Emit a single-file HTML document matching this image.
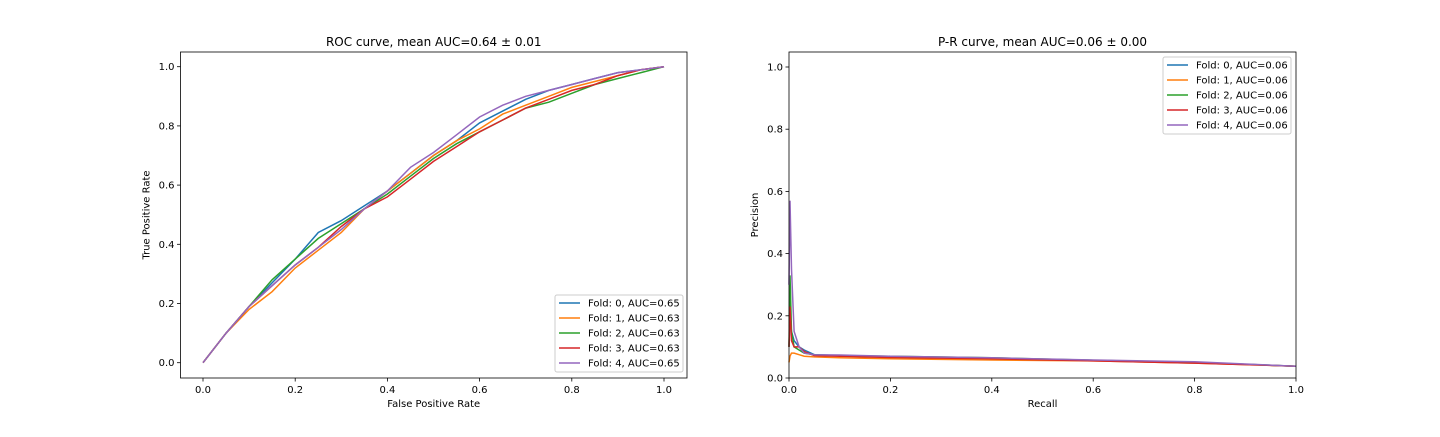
<!DOCTYPE html>
<html><head><meta charset="utf-8"><style>
body{margin:0;background:#fff;}
svg text{font-family:"DejaVu Sans","Liberation Sans",sans-serif;fill:#000;}
</style></head><body>
<svg id="fig" width="1440" height="432" xmlns="http://www.w3.org/2000/svg"></svg>
<script>
const rocX=[0,0.05,0.1,0.15,0.2,0.25,0.3,0.35,0.4,0.45,0.5,0.55,0.6,0.65,0.7,0.75,0.8,0.85,0.9,0.95,1];
const rocF0=[0,.10,.19,.27,.35,.44,.48,.53,.58,.64,.70,.75,.81,.85,.89,.92,.94,.96,.98,.99,1];
const rocF1=[0,.10,.18,.24,.32,.38,.44,.52,.58,.64,.70,.75,.79,.84,.87,.90,.93,.95,.97,.99,1];
const rocF2=[0,.10,.19,.28,.35,.42,.47,.52,.57,.63,.69,.74,.78,.82,.86,.88,.91,.94,.96,.98,1];
const rocF3=[0,.10,.19,.26,.33,.39,.46,.52,.56,.62,.68,.73,.78,.82,.86,.89,.92,.94,.97,.99,1];
const rocF4=[0,.10,.19,.26,.33,.39,.45,.52,.58,.66,.71,.77,.83,.87,.90,.92,.94,.96,.98,.99,1];
const prX=[0,0.002,0.005,0.01,0.02,0.03,0.05,0.1,0.2,0.4,0.6,0.8,1.0];
const prF0=[0.1,0.2,0.15,0.12,0.1,0.09,0.075,0.072,0.068,0.063,0.057,0.05,0.038];
const prF1=[0.05,0.07,0.08,0.08,0.075,0.07,0.068,0.065,0.062,0.058,0.055,0.048,0.038];
const prF2=[0.1,0.33,0.15,0.1,0.09,0.08,0.075,0.072,0.07,0.065,0.057,0.05,0.038];
const prF3=[0.1,0.23,0.12,0.1,0.1,0.085,0.072,0.07,0.066,0.062,0.055,0.048,0.038];
const prF4=[0.3,0.57,0.35,0.15,0.1,0.08,0.075,0.074,0.07,0.065,0.058,0.052,0.038];
const rocLabels=["Fold: 0, AUC=0.65","Fold: 1, AUC=0.63","Fold: 2, AUC=0.63","Fold: 3, AUC=0.63","Fold: 4, AUC=0.65"];
const prLabels=["Fold: 0, AUC=0.06","Fold: 1, AUC=0.06","Fold: 2, AUC=0.06","Fold: 3, AUC=0.06","Fold: 4, AUC=0.06"];
const ticks=[0,0.2,0.4,0.6,0.8,1.0];
const colors=["#1f77b4","#ff7f0e","#2ca02c","#d62728","#9467bd"];
const NS="http://www.w3.org/2000/svg";
const svg=document.getElementById('fig');
function mk(t,a,p){const e=document.createElementNS(NS,t);for(const k in a)e.setAttribute(k,a[k]);(p||svg).appendChild(e);return e;}
function panel(o){
 const g=mk('g',{});
 
 
 const sx=v=>o.x0+(o.x1-o.x0)*v, sy=v=>o.y0+(o.y1-o.y0)*v;
 ticks.forEach(t=>{
  const X=sx(t);
  const tk=mk('line',{x1:X,x2:X,y1:o.B,y2:o.B+3.5,stroke:'#000','stroke-width':0.8},g);
  
  
  const tx=mk('text',{x:X,y:o.B+15,'font-size':10,'text-anchor':'middle'},g);tx.textContent=t.toFixed(1);
  
  
  const Y=sy(t);
  const yk=mk('line',{x1:o.L-3.5,x2:o.L,y1:Y,y2:Y,stroke:'#000','stroke-width':0.8},g);
  
  
  const ty=mk('text',{x:o.L-6,y:Y+3.5,'font-size':10,'text-anchor':'end'},g);ty.textContent=t.toFixed(1);
  
  
 });
 o.series.forEach((s,i)=>{
  const d=o.xs.map((x,j)=>(j?'L':'M')+sx(x).toFixed(1)+','+sy(s[j]).toFixed(1)).join('');
  const p=mk('path',{d:d,fill:'none',stroke:colors[i],'stroke-width':1.5},g);
  
  
 });
 const fr=mk('rect',{x:o.L,y:o.T,width:o.R-o.L,height:o.B-o.T,fill:'none',stroke:'#000','stroke-width':0.8},g);
 
 
 const ti=mk('text',{x:(o.L+o.R)/2,y:o.T-6,'font-size':12,'text-anchor':'middle'},g);ti.textContent=o.title;
 
 
 const xl=mk('text',{x:(o.L+o.R)/2,y:o.B+29,'font-size':10,'text-anchor':'middle'},g);xl.textContent=o.xlabel;
 
 
 const yx=o.L-31, yy=(o.T+o.B)/2;
 const yl=mk('text',{x:yx,y:yy,'font-size':10,'text-anchor':'middle',transform:`rotate(-90 ${yx} ${yy})`},g);yl.textContent=o.ylabel;
 
 
 const lg=mk('g',{},g);
 
 
 mk('rect',{x:o.lx,y:o.ly,width:128,height:77,rx:2,fill:'#fff','fill-opacity':0.8,stroke:'#ccc','stroke-width':1},lg);
 o.labels.forEach((l,i)=>{
  const yy2=o.ly+8+i*15;
  const ln=mk('line',{x1:o.lx+4,x2:o.lx+25,y1:yy2,y2:yy2,stroke:colors[i],'stroke-width':1.5},lg);
  
  
  const t=mk('text',{x:o.lx+33,y:yy2+3.5,'font-size':10},lg);t.textContent=l;
  
  
 });
}
panel({name:'roc-chart',L:180.5,R:687,T:52,B:378,x0:203,x1:664,y0:362.7,y1:66.7,xs:rocX,series:[rocF0,rocF1,rocF2,rocF3,rocF4],
 title:'ROC curve, mean AUC=0.64 \u00b1 0.01',xlabel:'False Positive Rate',ylabel:'True Positive Rate',labels:rocLabels,lx:555,ly:295});
panel({name:'pr-chart',L:789,R:1296,T:52,B:378,x0:789,x1:1296,y0:378,y1:67,xs:prX,series:[prF0,prF1,prF2,prF3,prF4],
 title:'P-R curve, mean AUC=0.06 \u00b1 0.00',xlabel:'Recall',ylabel:'Precision',labels:prLabels,lx:1163,ly:57});
</script>
</body></html>
